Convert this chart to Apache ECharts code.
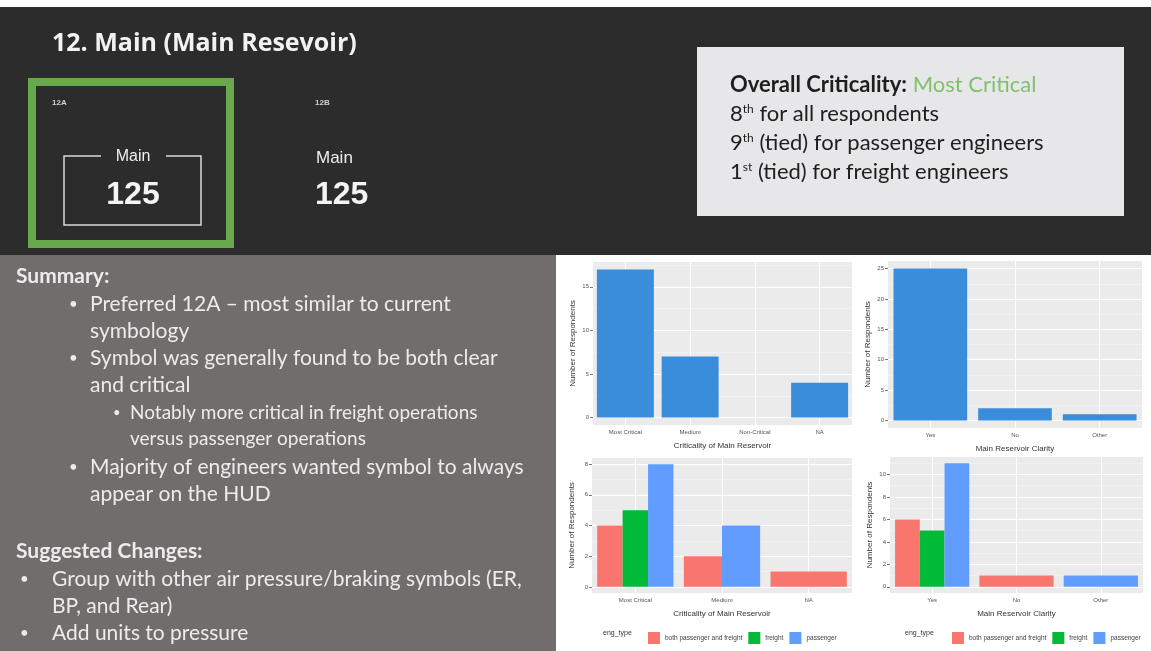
<!DOCTYPE html>
<html>
<head>
<meta charset="utf-8">
<script src="https://cdn.jsdelivr.net/npm/echarts@6/dist/echarts.min.js"></script>
<style>
  html, body { margin: 0; padding: 0; background: #ffffff; }
  #chart { width: 1151px; height: 651px; }
</style>
</head>
<body>
<div id="chart"></div>
<script>
// ---- survey data ----
const criticalityCats = ['Most Critical', 'Medium', 'Non-Critical', 'NA'];
const criticalityAll = [17, 7, 0, 4];

const clarityCats = ['Yes', 'No', 'Other'];
const clarityAll = [25, 2, 1];

const engTypes = ['both passenger and freight', 'freight', 'passenger'];

const critGroupCats = ['Most Critical', 'Medium', 'NA'];
const critBoth = [4, 2, 1];
const critFreight = [5, null, null];
const critPassenger = [8, 4, null];

const clarGroupCats = ['Yes', 'No', 'Other'];
const clarBoth = [6, 1, null];
const clarFreight = [5, null, null];
const clarPassenger = [11, null, 1];

const ticksCrit = [0, 5, 10, 15];
const ticksClar = [0, 5, 10, 15, 20, 25];
const ticksCritGroup = [0, 2, 4, 6, 8];
const ticksClarGroup = [0, 2, 4, 6, 8, 10];

// ---- styling ----
const GG_FILL = ['#F8766D', '#00BA38', '#619CFF'];
const SINGLE_FILL = '#3a8ddb';
const PANEL_BG = '#ebebeb';
const SANS = 'Lato, "Open Sans", sans-serif';
const TITLE = '"Open Sans", Lato, sans-serif';
const TINY = 'Liberation Sans, Arial, sans-serif';

// ggplot-like gridlines: white major lines on breaks, thin minor lines between, vertical lines at categories
function gridLines(ticks, cats) {
  const d = [];
  ticks.forEach((t, i) => {
    d.push({ yAxis: t, lineStyle: { color: '#ffffff', width: 1, type: 'solid' } });
    if (i < ticks.length - 1) {
      d.push({ yAxis: (t + ticks[i + 1]) / 2, lineStyle: { color: '#f7f7f7', width: 0.5, type: 'solid' } });
    }
  });
  const step = ticks[1] - ticks[0];
  d.push({ yAxis: ticks[ticks.length - 1] + step / 2, lineStyle: { color: '#f7f7f7', width: 0.5, type: 'solid' } });
  cats.forEach(c => d.push({ xAxis: c, lineStyle: { color: '#ffffff', width: 1, type: 'solid' } }));
  return { silent: true, symbol: 'none', z: 1, animation: false, label: { show: false }, data: d };
}

function extentOf(maxVal) {
  const pad = maxVal * 0.05;
  return [-pad, maxVal + pad];
}

function xAxisFor(idx, cats, name) {
  return {
    type: 'category', gridIndex: idx, data: cats,
    axisLine: { show: false },
    axisTick: { show: true, alignWithLabel: true, length: 3, lineStyle: { color: '#777' } },
    axisLabel: { fontSize: 6, color: '#555', margin: 4, fontFamily: TINY, interval: 0 },
    splitLine: { show: false },
    name: name, nameLocation: 'middle', nameGap: 17,
    nameTextStyle: { fontSize: 8, color: '#333', fontFamily: TINY }
  };
}

function yAxisFor(idx, ticks, maxVal) {
  const ext = extentOf(maxVal);
  return {
    type: 'value', gridIndex: idx, min: ext[0], max: ext[1],
    axisLine: { show: false },
    axisTick: { show: true, length: 3, customValues: ticks, lineStyle: { color: '#777' } },
    axisLabel: { fontSize: 6, color: '#555', margin: 4, fontFamily: TINY, customValues: ticks },
    splitLine: { show: false },
    name: 'Number of Respondents', nameLocation: 'middle', nameGap: 16, nameRotate: 90,
    nameTextStyle: { fontSize: 8, color: '#333', fontFamily: TINY }
  };
}

// dodged bars: groups missing at a category leave their width to the groups present there
function dodgeRender(groups, gIndex) {
  return function (params, api) {
    const ci = api.value(0);
    const v = api.value(1);
    const present = [];
    groups.forEach((g, k) => { if (g[ci] != null) present.push(k); });
    const slot = present.indexOf(gIndex);
    const band = api.size([1, 0])[0] * 0.88;
    const w = band / present.length;
    const top = api.coord([ci, v]);
    const base = api.coord([ci, 0]);
    return {
      type: 'rect',
      shape: { x: top[0] - band / 2 + slot * w, y: top[1], width: w, height: base[1] - top[1] },
      style: api.style()
    };
  };
}

function dodgeSeries(gridIdx, groups, cats, ticks) {
  return groups.map((g, k) => {
    const data = [];
    g.forEach((v, i) => { if (v != null) data.push([i, v]); });
    const s = {
      type: 'custom', name: engTypes[k],
      xAxisIndex: gridIdx, yAxisIndex: gridIdx,
      renderItem: dodgeRender(groups, k),
      encode: { x: 0, y: 1 },
      itemStyle: { color: GG_FILL[k] },
      data: data, z: 3, silent: true
    };
    if (k === 0) s.markLine = gridLines(ticks, cats);
    return s;
  });
}

const grids = [
  { left: 593, top: 262, width: 259, height: 163 },
  { left: 888, top: 261, width: 254, height: 167 },
  { left: 592, top: 458, width: 260, height: 135 },
  { left: 890, top: 457, width: 253, height: 136 }
].map(g => Object.assign({ show: true, backgroundColor: PANEL_BG, borderWidth: 0 }, g));

const legendBase = {
  orient: 'horizontal', itemWidth: 12, itemHeight: 12, itemGap: 6, icon: 'rect',
  textStyle: { fontSize: 6.5, color: '#444', fontFamily: TINY }, selectedMode: false,
  data: engTypes
};

// ---- slide decoration ----
const txt = (x, y, text, size, extra) => ({
  type: 'text', x: x, y: y, silent: true,
  style: Object.assign({ text: text, fontSize: size, fontFamily: SANS, fill: '#ebebeb', verticalAlign: 'middle', align: 'left' }, extra || {})
});

const bodyFill = '#ececec';
const BODY = 21;
const SUB = 19;
const sup = { fontSize: 12, fontFamily: SANS, fill: '#1e1e1e', verticalAlign: 'top', lineHeight: 17 };
const graphic = [
  { type: 'rect', shape: { x: 0, y: 7, width: 1151, height: 248 }, style: { fill: '#2c2c2c' }, z: -10, silent: true },
  { type: 'rect', shape: { x: 0, y: 255, width: 556, height: 396 }, style: { fill: '#726d6d' }, z: -10, silent: true },
  { type: 'rect', shape: { x: 32, y: 82, width: 198, height: 162 }, style: { fill: 'none', stroke: '#68a94e', lineWidth: 8 }, silent: true },
  { type: 'polyline', shape: { points: [[101, 156], [64, 156], [64, 225], [201, 225], [201, 156], [166, 156]] }, style: { fill: 'none', stroke: '#d9d9d9', lineWidth: 1.5 }, silent: true },
  txt(52, 44, '12. Main (Main Resevoir)', 25, { fontWeight: 'bold', fill: '#f2f2f2', fontFamily: TITLE }),
  txt(52, 103, '12A', 8, { fontWeight: 'bold', fill: '#cfcfcf', fontFamily: TINY }),
  txt(315, 103, '12B', 8, { fontWeight: 'bold', fill: '#cfcfcf', fontFamily: TINY }),
  txt(133, 157, 'Main', 16, { align: 'center', fontFamily: TINY, fill: '#eeeeee' }),
  txt(133, 195, '125', 32, { align: 'center', fontFamily: TINY, fontWeight: 'bold', fill: '#f4f4f4' }),
  txt(316, 158, 'Main', 17, { fontFamily: TINY, fill: '#eeeeee' }),
  txt(315, 195, '125', 32, { fontFamily: TINY, fontWeight: 'bold', fill: '#f4f4f4' }),

  { type: 'rect', shape: { x: 697, y: 47, width: 427, height: 169 }, style: { fill: '#e7e7e9' }, silent: true },
  txt(730, 85, '{b|Overall Criticality:} {g|Most Critical}', 22, {
    fill: '#1e1e1e', rich: { b: { fontWeight: 'bold', fontSize: 22, fontFamily: SANS, fill: '#1e1e1e' }, g: { fontSize: 22, fontFamily: SANS, fill: '#7cc36a' } }
  }),
  txt(730, 114, '8{s|th} for all respondents', 22, { fill: '#1e1e1e', rich: { s: sup } }),
  txt(730, 143, '9{s|th} (tied) for passenger engineers', 22, { fill: '#1e1e1e', rich: { s: sup } }),
  txt(730, 172, '1{s|st} (tied) for freight engineers', 22, { fill: '#1e1e1e', rich: { s: sup } }),

  txt(16, 276, 'Summary:', BODY, { fontWeight: 'bold', fill: bodyFill }),
  txt(69, 304, '•', 15, { fill: bodyFill }),
  txt(90, 304, 'Preferred 12A – most similar to current', BODY, { fill: bodyFill }),
  txt(90, 331, 'symbology', BODY, { fill: bodyFill }),
  txt(69, 358, '•', 15, { fill: bodyFill }),
  txt(90, 358, 'Symbol was generally found to be both clear', BODY, { fill: bodyFill }),
  txt(90, 385, 'and critical', BODY, { fill: bodyFill }),
  txt(113, 413, '•', 13, { fill: bodyFill }),
  txt(130, 413, 'Notably more critical in freight operations', SUB, { fill: bodyFill }),
  txt(130, 439, 'versus passenger operations', SUB, { fill: bodyFill }),
  txt(69, 467, '•', 15, { fill: bodyFill }),
  txt(90, 467, 'Majority of engineers wanted symbol to always', BODY, { fill: bodyFill }),
  txt(90, 494, 'appear on the HUD', BODY, { fill: bodyFill }),
  txt(16, 551, 'Suggested Changes:', BODY, { fontWeight: 'bold', fill: bodyFill }),
  txt(20, 579, '•', 15, { fill: bodyFill }),
  txt(52, 579, 'Group with other air pressure/braking symbols (ER,', BODY, { fill: bodyFill }),
  txt(52, 606, 'BP, and Rear)', BODY, { fill: bodyFill }),
  txt(20, 633, '•', 15, { fill: bodyFill }),
  txt(52, 633, 'Add units to pressure', BODY, { fill: bodyFill }),

  txt(603, 633, 'eng_type', 7, { fontFamily: TINY, fill: '#333' }),
  txt(905, 633, 'eng_type', 7, { fontFamily: TINY, fill: '#333' })
];

const chart = echarts.init(document.getElementById('chart'), null, { renderer: 'canvas' });
chart.setOption({
  animation: false,
  backgroundColor: '#ffffff',
  grid: grids,
  xAxis: [
    xAxisFor(0, criticalityCats, 'Criticality of Main Reservoir'),
    xAxisFor(1, clarityCats, 'Main Reservoir Clarity'),
    xAxisFor(2, critGroupCats, 'Criticality of Main Reservoir'),
    xAxisFor(3, clarGroupCats, 'Main Reservoir Clarity')
  ],
  yAxis: [
    yAxisFor(0, ticksCrit, Math.max(...criticalityAll)),
    yAxisFor(1, ticksClar, Math.max(...clarityAll)),
    yAxisFor(2, ticksCritGroup, Math.max(...critBoth, ...critFreight.filter(v => v != null), ...critPassenger.filter(v => v != null))),
    yAxisFor(3, ticksClarGroup, Math.max(...clarBoth.filter(v => v != null), ...clarFreight.filter(v => v != null), ...clarPassenger.filter(v => v != null)))
  ],
  legend: [
    Object.assign({ left: 643, top: 627 }, legendBase),
    Object.assign({ left: 947, top: 627 }, legendBase)
  ],
  graphic: graphic,
  series: [
    {
      type: 'bar', name: 'all', xAxisIndex: 0, yAxisIndex: 0, data: criticalityAll,
      barCategoryGap: '12%', itemStyle: { color: SINGLE_FILL }, z: 3, silent: true,
      markLine: gridLines(ticksCrit, criticalityCats)
    },
    {
      type: 'bar', name: 'all clarity', xAxisIndex: 1, yAxisIndex: 1, data: clarityAll,
      barCategoryGap: '13%', itemStyle: { color: SINGLE_FILL }, z: 3, silent: true,
      markLine: gridLines(ticksClar, clarityCats)
    },
    ...dodgeSeries(2, [critBoth, critFreight, critPassenger], critGroupCats, ticksCritGroup),
    ...dodgeSeries(3, [clarBoth, clarFreight, clarPassenger], clarGroupCats, ticksClarGroup)
  ]
});
</script>
</body>
</html>
